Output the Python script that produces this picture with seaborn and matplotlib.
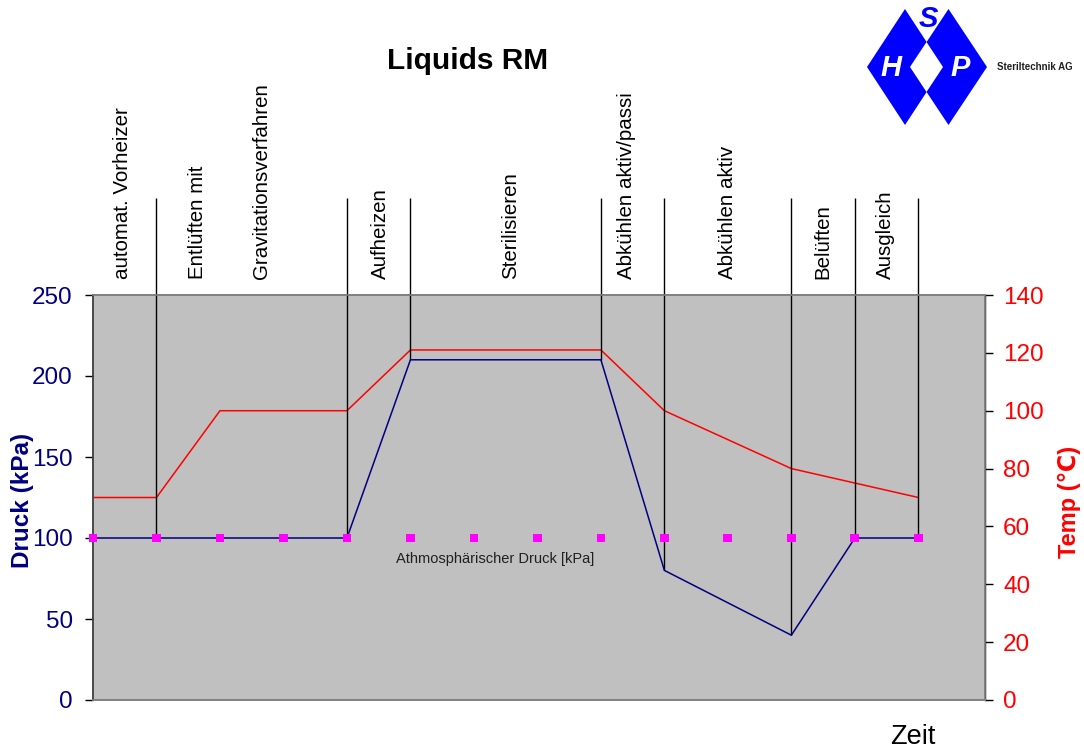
import numpy as np
import pandas as pd
import seaborn as sns
import matplotlib.pyplot as plt
from matplotlib.patches import Polygon

sns.set_theme(style="white")
plt.rcParams['font.family'] = ['Liberation Sans', 'DejaVu Sans']

# data
steps = list(range(14))
druck = [100, 100, 100, 100, 100, 210, 210, 210, 210, 80, 60, 40, 100, 100]
temp = [70, 70, 100, 100, 100, 121, 121, 121, 121, 100, 90, 80, 75, 70]
atm = [100] * 14
drop_steps = [1, 4, 5, 8, 9, 11, 12, 13]
phases = ["automat. Vorheizer", "Entlüften mit", "Gravitationsverfahren", "Aufheizen",
          "Sterilisieren", "Abkühlen aktiv/passi", "Abkühlen aktiv", "Belüften", "Ausgleich"]
phase_pos = [0.46, 1.65, 2.66, 4.52, 6.57, 8.41, 10.0, 11.49, 12.48]

df = pd.DataFrame({"Zeit": steps, "Druck": druck, "Temp": temp, "Atm": atm})

W, H = 1084, 750
fig = plt.figure(figsize=(W / 100, H / 100), dpi=100)
ax = fig.add_axes([93 / W, 1 - 700 / H, 892 / W, 405 / H])
ax2 = ax.twinx()
ax.set_zorder(2)
ax.patch.set_visible(False)
ax2.patch.set_visible(True)
ax2.set_facecolor('#C0C0C0')

sns.lineplot(data=df, x="Zeit", y="Temp", ax=ax2, color='#FF0000', lw=1.1)
sns.lineplot(data=df, x="Zeit", y="Druck", ax=ax, color='#000080', lw=1.1, zorder=3)
sns.scatterplot(data=df, x="Zeit", y="Atm", ax=ax, color='#FF00FF', marker='s', s=40,
                edgecolor='none', zorder=4, clip_on=False)

# drop lines from the phase header down to the pressure curve
ax.vlines(drop_steps, [druck[i] for i in drop_steps], 310, color='black', lw=1.0,
          clip_on=False, zorder=2)

for lab, xp in zip(phases, phase_pos):
    ax.text(xp, 260, lab, rotation=90, ha='center', va='bottom', fontsize=14.8, color='black')

ax.text(6.34, 87, "Athmosphärischer Druck [kPa]", ha='center', va='center', fontsize=10.5,
        color='#202020')

ax.set_xlim(0, 14.05)
ax.set_ylim(0, 250)
ax2.set_ylim(0, 140)
ax.set_yticks(range(0, 251, 50))
ax2.set_yticks(range(0, 141, 20))
ax.set_xticks([])
ax.set_xlabel("")
ax.set_ylabel("")
ax2.set_ylabel("")
ax.tick_params(axis='y', direction='out', length=6, width=1, color='black', pad=8.5,
               labelsize=17.5, labelcolor='#000080', left=True)
ax2.tick_params(axis='y', direction='out', length=6, width=1, color='black', pad=7,
                labelsize=17.5, labelcolor='#FF0000', right=True)

for a in (ax, ax2):
    for s in a.spines.values():
        s.set_visible(True)
        s.set_color('#808080')
        s.set_linewidth(1.2)
ax.spines['left'].set_color('#404040')
ax2.spines['right'].set_color('black')
ax2.spines['right'].set_linewidth(1.0)

fig.text(22 / W, 1 - 500 / H, "Druck (kPa)", rotation=90, ha='center', va='center',
         fontsize=17.5, fontweight='bold', color='#000080')
fig.text(1069 / W, 1 - 502 / H, "Temp (℃)", rotation=90, ha='center', va='center',
         fontsize=17, fontweight='bold', color='#FF0000')
fig.text(468 / W, 1 - 61 / H, "Liquids RM", ha='center', va='center', fontsize=21.5,
         fontweight='bold', color='black')
fig.text(913 / W, 1 - 737 / H, "Zeit", ha='center', va='center', fontsize=19.5, color='black')


# logo
def px(pts):
    return [(x / W, 1 - y / H) for x, y in pts]


def diamond(cx, cy, hw, hh):
    return px([(cx - hw, cy), (cx, cy - hh), (cx + hw, cy), (cx, cy + hh)])


for cx, cy, hw, hh, col in [(905, 67, 38, 58, '#0000FF'), (948.5, 67, 38.5, 58, '#0000FF'),
                            (926.5, 67, 16.5, 25, 'white')]:
    fig.patches.append(Polygon(diamond(cx, cy, hw, hh), closed=True, facecolor=col,
                               edgecolor='none', transform=fig.transFigure, figure=fig))
fig.text(928 / W, 1 - 19 / H, "S", ha='center', va='center', fontsize=21, fontweight='bold',
         fontstyle='italic', color='#0000FF')
fig.text(891 / W, 1 - 68 / H, "H", ha='center', va='center', fontsize=21, fontweight='bold',
         fontstyle='italic', color='white')
fig.text(960 / W, 1 - 68 / H, "P", ha='center', va='center', fontsize=21, fontweight='bold',
         fontstyle='italic', color='white')
fig.text(997 / W, 1 - 67 / H, "Steriltechnik AG", ha='left', va='center', fontsize=7,
         fontweight='bold', color='#202020')

plt.savefig("out.png", dpi=100)
